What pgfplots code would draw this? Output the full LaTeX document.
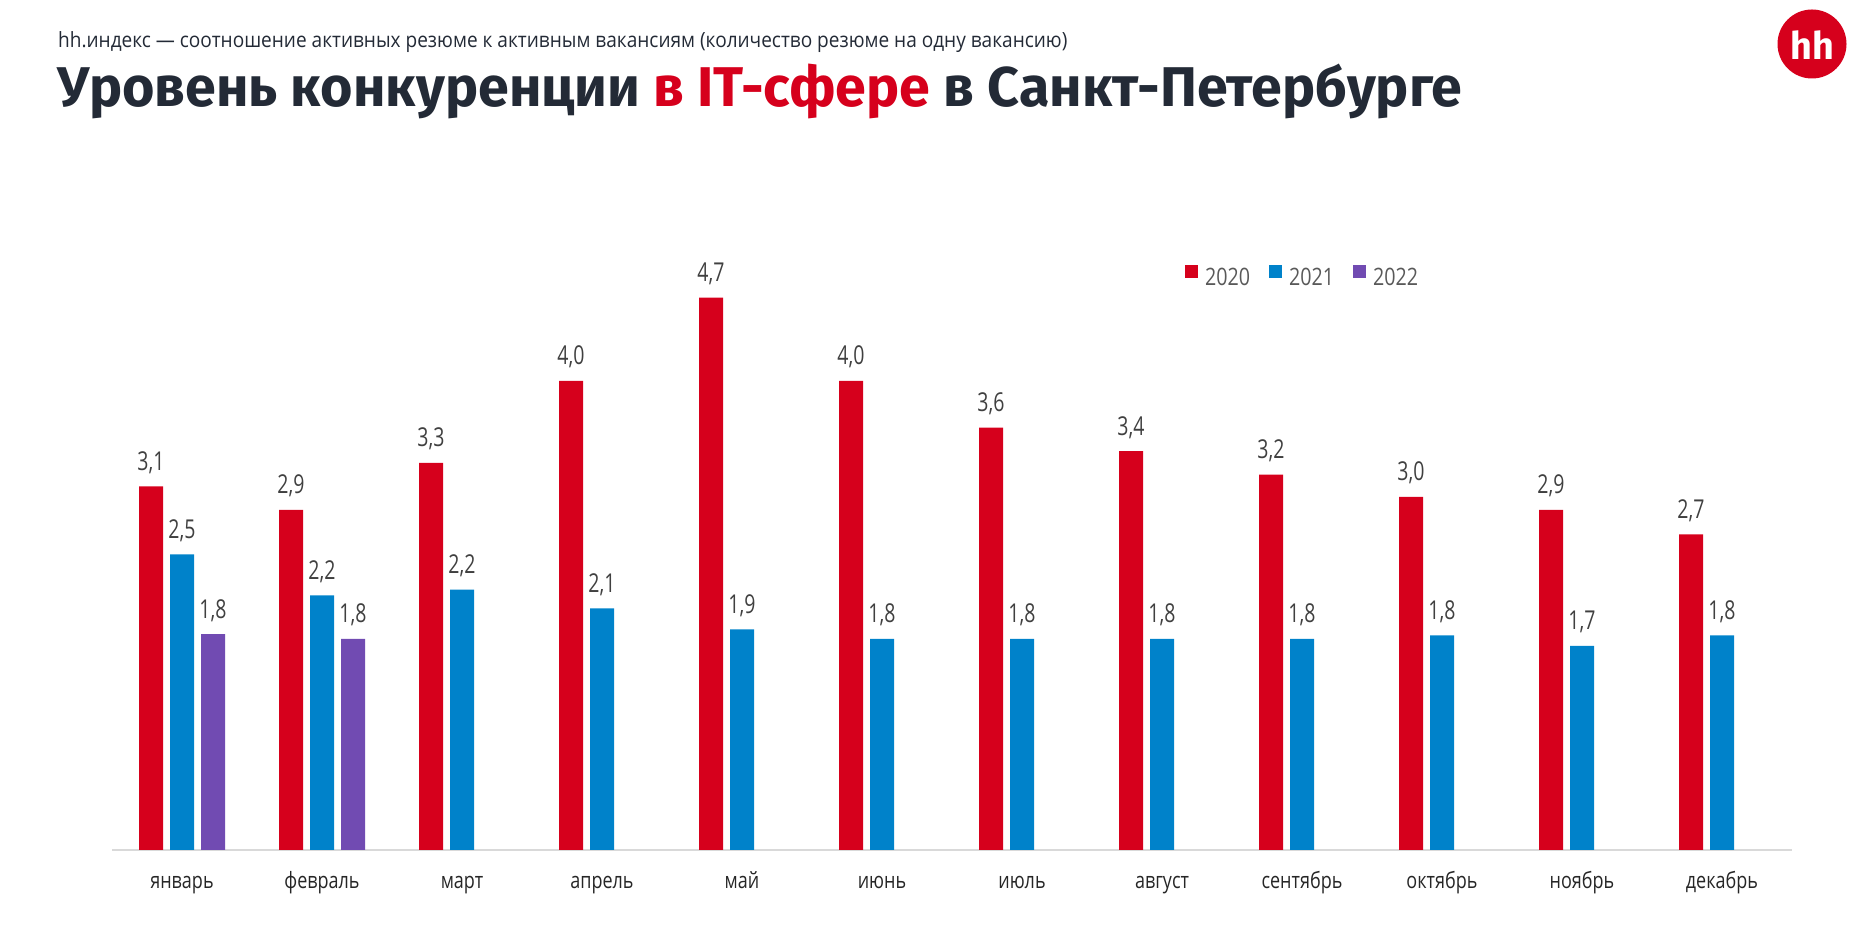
\documentclass[border=0pt]{standalone}
\usepackage{pgfplots}
\pgfplotsset{compat=1.18}
\usepackage{fontspec}
\setmainfont{Open Sans}
\newfontfamily\titlefont[FakeStretch=0.993]{Fira Sans}
\newfontfamily\subfont[FakeStretch=0.907]{Open Sans}
\newfontfamily\lblfont[FakeStretch=0.75]{Open Sans}
\newfontfamily\monthfont[FakeStretch=0.8]{Open Sans}
\newfontfamily\legfont[FakeStretch=0.82]{Open Sans}

\definecolor{hhred}{HTML}{D6001C}
\definecolor{hhblue}{HTML}{0082CA}
\definecolor{hhpurple}{HTML}{714BB2}
\definecolor{titledark}{HTML}{232A36}
\definecolor{lblgray}{HTML}{404040}
\definecolor{leggray}{HTML}{595959}
\definecolor{linegray}{HTML}{D9D9D9}

% values per month (0 = январь ... 11 = декабрь)
\pgfplotstableread{
x y
0 3.10
1 2.90
2 3.30
3 4.00
4 4.71
5 4.00
6 3.60
7 3.40
8 3.20
9 3.01
10 2.90
11 2.69
}\yeartwenty
\pgfplotstableread{
x y
0 2.52
1 2.17
2 2.22
3 2.06
4 1.88
5 1.80
6 1.80
7 1.80
8 1.80
9 1.83
10 1.74
11 1.83
}\yeartwentyone
\pgfplotstableread{
x y
0 1.84
1 1.80
}\yeartwentytwo

\begin{document}
\begin{tikzpicture}
\useasboundingbox (0pt,0pt) rectangle (1869pt,925pt);

% subtitle and title
\node[anchor=base west, inner sep=0pt, text=titledark,
      font=\subfont\fontsize{21}{21}\selectfont] at (58pt,877pt)
  {hh.индекс — соотношение активных резюме к активным вакансиям (количество резюме на одну вакансию)};
\node[anchor=base west, inner sep=0pt, text=titledark,
      font=\titlefont\bfseries\fontsize{56}{56}\selectfont] at (57pt,818pt)
  {Уровень конкуренции \textcolor{hhred}{в IT-сфере} в Санкт-Петербурге};

% logo
\fill[hhred] (1812pt,881pt) circle (34.5pt);
\node[text=white, inner sep=0pt, font=\titlefont\bfseries\fontsize{38}{38}\selectfont]
  at (1812pt,880pt) {hh};

\begin{axis}[
    at={(112pt,75pt)}, anchor=south west,
    scale only axis,
    width=1680pt, height=586.5pt,
    xmin=-0.5, xmax=11.5,
    ymin=0, ymax=5,
    enlargelimits=false,
    clip=false,
    ybar=7pt,
    bar width=24pt,
    axis y line=none,
    axis x line*=bottom,
    x axis line style={-, draw=linegray, line width=2pt},
    xtick={0,...,11},
    xticklabels={январь, февраль, март, апрель, май, июнь, июль, август, сентябрь, октябрь, ноябрь, декабрь},
    xtick style={draw=none},
    xticklabel style={anchor=base, yshift=-34pt, inner sep=0pt,
                      font=\monthfont\fontsize{22.5}{22.5}\selectfont, text=black!85},
    nodes near coords,
    point meta=y,
    /pgf/number format/.cd, fixed, fixed zerofill, precision=1, use comma, assume math mode=true,
    /pgfplots/.cd,
    every node near coord/.append style={anchor=base, yshift=16pt, inner sep=0pt,
                      font=\lblfont\fontsize{26}{26}\selectfont, text=lblgray},
    legend columns=3,
    legend style={at={(0.6387,0.9599)}, anchor=south west, draw=none, fill=none,
                  inner sep=0pt, outer sep=0pt,
                  nodes={inner sep=0pt, font=\legfont\fontsize{24}{24}\selectfont, text=leggray},
                  /tikz/every odd column/.append style={column sep=7pt},
                  /tikz/every even column/.append style={column sep=19pt}},
]
\addplot[fill=hhred, draw=none,
  legend image code/.code={\fill[hhred] (0pt,0pt) rectangle (13pt,13pt);}]
  table[x=x, y=y] {\yeartwenty};
\addplot[fill=hhblue, draw=none,
  legend image code/.code={\fill[hhblue] (0pt,0pt) rectangle (13pt,13pt);}]
  table[x=x, y=y] {\yeartwentyone};
\addplot[fill=hhpurple, draw=none,
  legend image code/.code={\fill[hhpurple] (0pt,0pt) rectangle (13pt,13pt);}]
  table[x=x, y=y] {\yeartwentytwo};
\legend{2020, 2021, 2022}
\end{axis}
\end{tikzpicture}
\end{document}
